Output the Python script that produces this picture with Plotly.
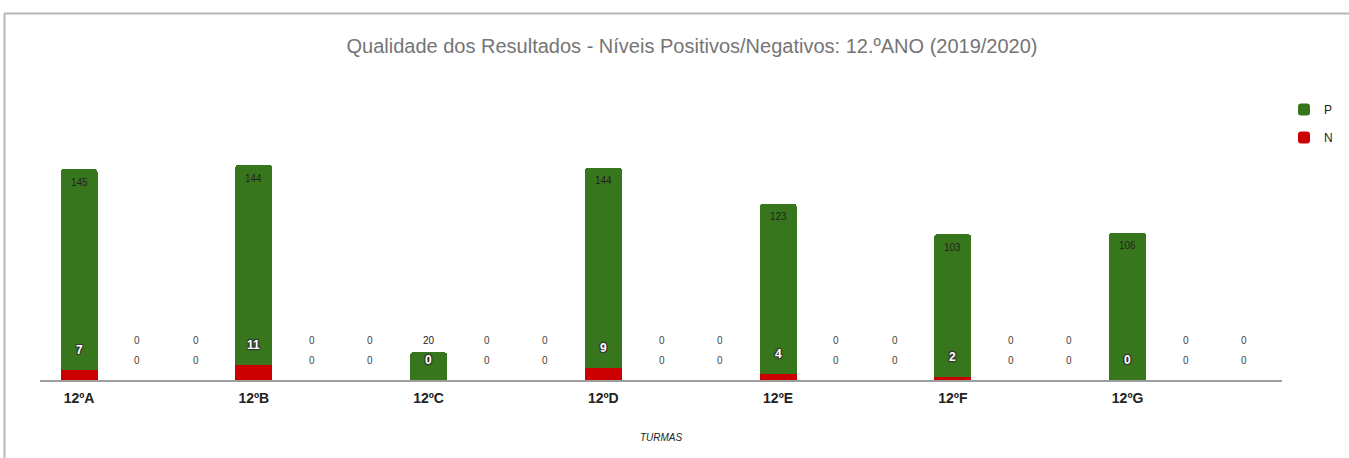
import plotly.graph_objects as go

# Dados por turma
turmas = ["12ºA", "12ºB", "12ºC", "12ºD", "12ºE", "12ºF", "12ºG"]
positivos = [145, 144, 20, 144, 123, 103, 106]
negativos = [7, 11, 0, 9, 4, 2, 0]
# cada turma é seguida de duas colunas vazias (valor 0)
vazios_por_turma = 2

COR_P = "#38761d"
COR_N = "#cc0000"
FONTE = "Liberation Sans, Arial, sans-serif"

W, H = 1349, 458
MT, MB, ML = 100, 78, 40
PLOT_W = 1242
PLOT_H = H - MT - MB
PX_POR_UNIDADE = 1.387
Y_MAX = PLOT_H / PX_POR_UNIDADE

# construir as 21 colunas
xs, p_vals, n_vals, reais = [], [], [], []
pos = 0
for t, p, n in zip(turmas, positivos, negativos):
    xs.append(pos); p_vals.append(p); n_vals.append(n); reais.append(True)
    pos += 1
    for _ in range(vazios_por_turma):
        xs.append(pos); p_vals.append(0); n_vals.append(0); reais.append(False)
        pos += 1

tick_pos = [x for x, r in zip(xs, reais) if r]

fig = go.Figure()
fig.add_trace(go.Bar(x=xs, y=n_vals, name="N", marker=dict(color=COR_N, line=dict(width=0)),
                     width=0.635, legendgroup="N", legendrank=2, hoverinfo="skip"))
fig.add_trace(go.Bar(x=xs, y=p_vals, name="P", marker=dict(color=COR_P, line=dict(width=0)),
                     width=0.635, legendgroup="P", legendrank=1, hoverinfo="skip"))

contorno = ("1px 1px 1px #333, -1px -1px 1px #333, "
            "1px -1px 1px #333, -1px 1px 1px #333")
anots = []
for x, p, n, real in zip(xs, p_vals, n_vals, reais):
    # rótulo N: 20 px acima do topo da barra vermelha
    n_px = n * PX_POR_UNIDADE + 20
    n_dentro = real and (n + p) * PX_POR_UNIDADE > n_px
    anots.append(dict(
        x=x, y=0, yshift=n_px, text=str(n), showarrow=False, xref="x", yref="y",
        font=dict(family=FONTE, size=12 if n_dentro else 10,
                  color="#ffffff" if n_dentro else "#444444",
                  shadow=contorno if n_dentro else "none",
                  weight="bold" if n_dentro else "normal"),
    ))
    # rótulo P: junto ao topo da barra, sem sobrepor o rótulo N
    p_px = max((n + p) * PX_POR_UNIDADE - 13, n_px + 20)
    anots.append(dict(
        x=x, y=0, yshift=p_px, text=str(p), showarrow=False, xref="x", yref="y",
        font=dict(family=FONTE, size=10, color="#222222" if real else "#444444"),
    ))

x0, x1 = -0.67, 20.65


def px_x(px):
    return (px - ML) / PLOT_W


def px_y(py):
    return (H - MB - py) / PLOT_H


shapes = [
    dict(type="line", xref="paper", yref="paper", x0=px_x(4), x1=px_x(1349),
         y0=px_y(13.5), y1=px_y(13.5), line=dict(color="#b7b7b7", width=2)),
    dict(type="line", xref="paper", yref="paper", x0=px_x(4.5), x1=px_x(4.5),
         y0=px_y(13.5), y1=px_y(470), line=dict(color="#b7b7b7", width=2)),
]

fig.update_layout(
    width=W, height=H,
    margin=dict(l=ML, r=W - ML - PLOT_W, t=MT, b=MB, autoexpand=False),
    paper_bgcolor="white", plot_bgcolor="white",
    barmode="stack", barcornerradius=3,
    font=dict(family=FONTE, color="#222222"),
    title=dict(text="Qualidade dos Resultados - Níveis Positivos/Negativos: 12.ºANO (2019/2020)",
               x=692 / W, xanchor="center", y=1 - 46 / H, yanchor="middle",
               font=dict(family=FONTE, size=20, color="#757575")),
    xaxis=dict(range=[x0, x1], tickmode="array", tickvals=tick_pos, ticktext=turmas,
               showgrid=False, zeroline=False, showline=True, linecolor="#9e9e9e", linewidth=2,
               ticks="", ticklabelstandoff=4,
               tickfont=dict(family=FONTE, size=14, color="#222222", weight="bold"),
               title=dict(text="<i>TURMAS</i>", standoff=29,
                          font=dict(family=FONTE, size=10, color="#222222"))),
    yaxis=dict(range=[0, Y_MAX], showgrid=False, zeroline=False, showticklabels=False,
               showline=False, ticks=""),
    legend=dict(x=px_x(1284), xanchor="left", y=px_y(95), yanchor="top",
                traceorder="grouped", tracegroupgap=9,
                font=dict(family=FONTE, size=12, color="#222222"),
                bgcolor="rgba(0,0,0,0)"),
    annotations=anots,
    shapes=shapes,
    showlegend=True,
)

fig.write_html("out.html")
